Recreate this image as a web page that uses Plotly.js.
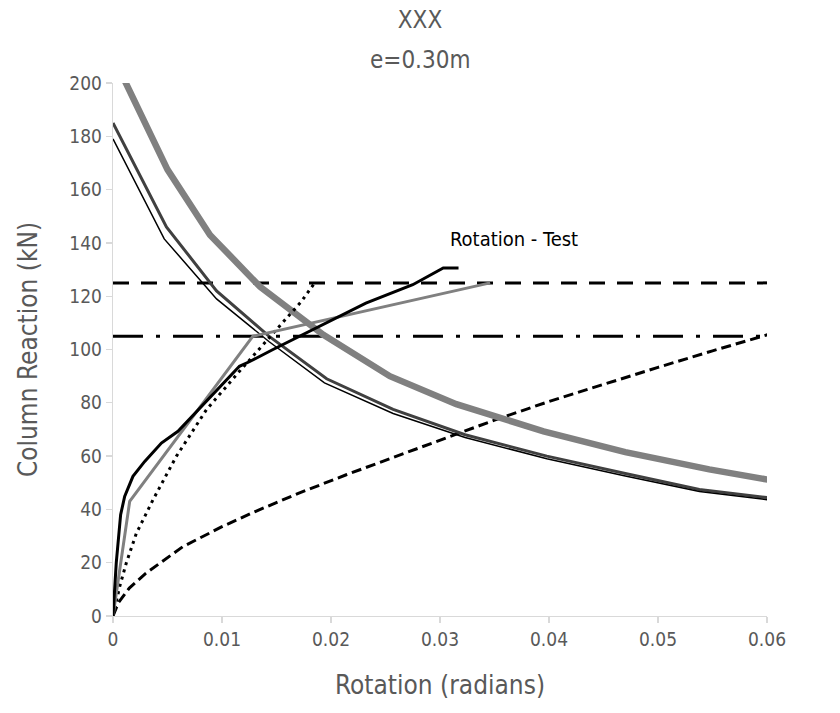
<!DOCTYPE html>
<html>
<head>
<meta charset="utf-8">
<script src="https://cdn.plot.ly/plotly-3.0.1.min.js"></script>
<style>
  html, body { margin: 0; padding: 0; background: #fff; }
  #chart { width: 840px; height: 713px; }
</style>
</head>
<body>
<div id="chart"></div>
<script>
// Capacity curves (column reaction falling with rotation)
const capWideX = [0.001, 0.005, 0.0089, 0.0135, 0.0193, 0.0254, 0.0315, 0.0395, 0.047, 0.0547, 0.0603];
const capWideY = [201.5, 167.5, 143, 123.5, 105.5, 90, 79.5, 69.3, 61.5, 55, 51];

const capDarkX = [0, 0.0049, 0.0095, 0.0143, 0.0196, 0.0257, 0.0323, 0.0398, 0.047, 0.0538, 0.0603];
const capDarkY = [185, 146, 122, 105, 89, 77.5, 68, 60, 53.5, 47.5, 44.3];

const capThinX = [0, 0.0047, 0.0095, 0.0143, 0.0194, 0.0257, 0.0323, 0.0398, 0.047, 0.0538, 0.0603];
const capThinY = [179, 141.5, 119, 103, 87.5, 76, 67, 59, 52.5, 46.7, 43.5];

// Measured rotation from the test
const testX = [0, 0.0003, 0.0007, 0.00107, 0.00183, 0.00291, 0.00444, 0.00596, 0.0116, 0.01255, 0.01468, 0.0171, 0.0202, 0.0232, 0.0275, 0.0303, 0.0317];
const testY = [0, 20, 38, 44.9, 52.4, 58, 64.9, 69.3, 93.7, 95.5, 100, 104.9, 111.2, 117.4, 124.3, 130.6, 130.6];

// Bilinear model
const modelX = [0, 0.00153, 0.01284, 0.0346];
const modelY = [0, 43, 105, 125];

// Dotted model curve
const dotX = [0, 0.00061, 0.00122, 0.00214, 0.00367, 0.00581, 0.00857, 0.0116, 0.01728, 0.0185];
const dotY = [0, 11, 19.9, 31, 43.6, 59.9, 77.4, 91.8, 118, 125];

// Dashed model curve
const dashX = [0, 0.0005, 0.0015, 0.003, 0.0064, 0.01, 0.0131, 0.017, 0.0214, 0.025, 0.03, 0.035, 0.04, 0.045, 0.05, 0.055, 0.0601];
const dashY = [0, 5, 10.5, 16, 26, 33.5, 39.3, 46, 53, 58.5, 66, 73.5, 80.5, 87, 93.3, 99.5, 105.6];

// Reference load levels
const levelX = [0, 0.06];
const vtestY = [125, 125];
const vlimY = [105, 105];

const xTicks = [0, 0.01, 0.02, 0.03, 0.04, 0.05, 0.06];
const xTickText = ['0', '0.01', '0.02', '0.03', '0.04', '0.05', '0.06'];
const yTicks = [0, 20, 40, 60, 80, 100, 120, 140, 160, 180, 200];

const FONT = '"Liberation Sans Narrow", "DejaVu Sans Condensed", "Liberation Sans", sans-serif';
const GREY_TEXT = '#595959';

const traces = [
  { x: levelX, y: vlimY, mode: 'lines', line: { color: '#000', width: 3, dash: '30px,13px,4px,13px' } },
  { x: levelX, y: vtestY, mode: 'lines', line: { color: '#000', width: 3, dash: '16px,12px' } },
  { x: dashX, y: dashY, mode: 'lines', line: { color: '#000', width: 3, dash: '10px,5px' } },
  { x: capWideX, y: capWideY, mode: 'lines', line: { color: '#808080', width: 6.5 } },
  { x: capDarkX, y: capDarkY, mode: 'lines', line: { color: '#404040', width: 3 } },
  { x: capThinX, y: capThinY, mode: 'lines', line: { color: '#000', width: 1.5 } },
  { x: dotX, y: dotY, mode: 'lines', line: { color: '#000', width: 3, dash: '3px,4.5px' } },
  { x: modelX, y: modelY, mode: 'lines', line: { color: '#808080', width: 3 } },
  { x: testX, y: testY, mode: 'lines', line: { color: '#000', width: 3 } }
];

const axisCommon = {
  showgrid: false,
  zeroline: false,
  showline: true,
  linecolor: '#d9d9d9',
  linewidth: 1.3,
  ticks: 'outside',
  ticklen: 6,
  tickcolor: '#d9d9d9',
  tickwidth: 1.3,
  tickfont: { family: FONT, size: 19, color: GREY_TEXT }
};

const layout = {
  width: 840,
  height: 713,
  margin: { l: 113, r: 73, t: 83, b: 97 },
  paper_bgcolor: '#fff',
  plot_bgcolor: '#fff',
  showlegend: false,
  font: { family: FONT, color: GREY_TEXT },
  title: {
    text: 'XXX',
    font: { family: FONT, size: 24, color: GREY_TEXT },
    xref: 'container', x: 0.5,
    yref: 'container', y: 1 - 20 / 713, yanchor: 'middle'
  },
  xaxis: Object.assign({}, axisCommon, {
    range: [0, 0.06],
    tickvals: xTicks,
    ticktext: xTickText,
    title: { text: 'Rotation (radians)', font: { family: FONT, size: 26, color: GREY_TEXT }, standoff: 26 }
  }),
  yaxis: Object.assign({}, axisCommon, {
    range: [0, 200],
    tickvals: yTicks,
    title: { text: 'Column Reaction (kN)', font: { family: FONT, size: 26, color: GREY_TEXT }, standoff: 24 }
  }),
  annotations: [
    { text: 'e=0.30m', xref: 'paper', yref: 'paper', x: (420 - 113) / 654, y: (616.3 - 60) / 533, xanchor: 'center', yanchor: 'middle',
      showarrow: false, font: { family: FONT, size: 24, color: GREY_TEXT } },
    { text: 'Rotation - Test', xref: 'x', yref: 'y', x: 0.0307, y: 141.5, xanchor: 'left', yanchor: 'middle',
      showarrow: false, font: { family: FONT, size: 20, color: '#000' } },
    { text: 'Vtest', xref: 'x', yref: 'y', x: 0.0633, y: 125, xanchor: 'left', yanchor: 'middle',
      showarrow: false, font: { family: FONT, size: 20, color: GREY_TEXT } }
  ]
};

Plotly.newPlot('chart', traces, layout, { staticPlot: true, displayModeBar: false });
</script>
</body>
</html>
